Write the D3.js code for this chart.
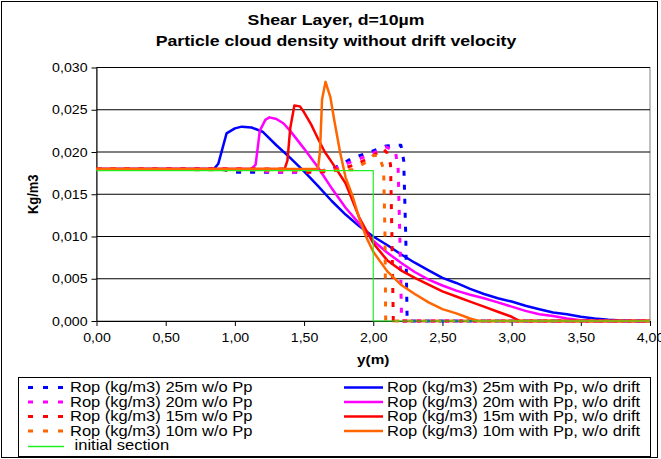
<!DOCTYPE html>
<html>
<head>
<meta charset="utf-8">
<script src="https://cdn.jsdelivr.net/npm/d3@7"></script>
<style>
  html, body { margin: 0; padding: 0; background: #fff; }
  svg { display: block; font-family: "Liberation Sans", Arial, sans-serif; }
</style>
</head>
<body>
<svg id="chart" width="661" height="459"></svg>
<script>
// Particle cloud density profiles across the shear layer, d = 10 µm
const titleLines = ["Shear Layer, d=10\u00b5m", "Particle cloud density without drift velocity"];
const xTicks = [0, 0.5, 1, 1.5, 2, 2.5, 3, 3.5, 4];
const yTicks = [0, 0.005, 0.010, 0.015, 0.020, 0.025, 0.030];
const xLabel = "y(m)";
const yLabel = "Kg/m3";

// without particle pressure (dashed)
const rop25NoPp = [[0,0.0180],[0.9,0.0180],[1.0,0.0176],[1.5,0.0176],[1.7,0.0179],[1.85,0.0193],[1.98,0.0200],[2.09,0.0207],[2.2,0.0208],[2.22,0.0190],[2.235,0.0100],[2.245,0],[4,0]];
const rop20NoPp = [[0,0.0180],[1.15,0.0180],[1.25,0.0176],[1.6,0.0176],[1.7,0.0179],[1.85,0.0189],[1.98,0.0197],[2.09,0.0206],[2.16,0.0201],[2.18,0.0180],[2.195,0.0080],[2.205,0],[4,0]];
const rop15NoPp = [[0,0.0180],[1.4,0.0180],[1.5,0.0176],[1.7,0.0177],[1.85,0.0184],[1.98,0.0193],[2.07,0.0204],[2.1,0.0199],[2.125,0.0185],[2.135,0.0100],[2.145,0],[4,0]];
const rop10NoPp = [[0,0.0180],[1.6,0.0178],[1.85,0.0179],[1.95,0.0188],[2.0,0.0196],[2.04,0.0196],[2.075,0.0180],[2.085,0.0100],[2.09,0],[4,0]];

// with particle pressure, without drift (solid)
const rop25Pp = [[0,0.0180],[0.85,0.0180],[0.88,0.0186],[0.94,0.0222],[1.0,0.0228],[1.05,0.0230],[1.12,0.0229],[1.2,0.0224],[1.3,0.0208],[1.4,0.0193],[1.5,0.0177],[1.6,0.0160],[1.7,0.0142],[1.8,0.0126],[1.9,0.0112],[2.0,0.0100],[2.1,0.0090],[2.2,0.0079],[2.3,0.0069],[2.4,0.0060],[2.5,0.0051],[2.6,0.0045],[2.7,0.0038],[2.8,0.0032],[2.9,0.0027],[3.0,0.0023],[3.1,0.0018],[3.2,0.0014],[3.3,0.0010],[3.4,0.0008],[3.5,0.0005],[3.6,0.0003],[3.7,0.00015],[3.8,0.00005],[3.9,0],[4,0]];
const rop20Pp = [[0,0.0180],[1.12,0.0180],[1.15,0.0185],[1.18,0.0225],[1.22,0.0238],[1.25,0.0241],[1.3,0.0239],[1.35,0.0234],[1.4,0.0225],[1.5,0.0204],[1.6,0.0182],[1.7,0.0157],[1.8,0.0134],[1.9,0.0115],[2.0,0.0095],[2.1,0.0081],[2.2,0.0069],[2.3,0.0058],[2.4,0.0049],[2.5,0.0042],[2.6,0.0036],[2.7,0.0031],[2.8,0.0027],[2.9,0.0022],[3.0,0.0017],[3.1,0.0012],[3.2,0.0008],[3.3,0.0006],[3.4,0.0003],[3.5,0.0001],[3.6,0],[4,0]];
const rop15Pp = [[0,0.0180],[1.36,0.0180],[1.38,0.0190],[1.40,0.0228],[1.43,0.0255],[1.47,0.0254],[1.5,0.0247],[1.55,0.0233],[1.6,0.0216],[1.65,0.0200],[1.7,0.0188],[1.8,0.0163],[1.9,0.0122],[2.0,0.0092],[2.1,0.0072],[2.2,0.0060],[2.3,0.0051],[2.4,0.0043],[2.5,0.0035],[2.6,0.0029],[2.7,0.0023],[2.8,0.0017],[2.9,0.0011],[3.0,0.0005],[3.06,0],[4,0]];
const rop10Pp = [[0,0.0180],[1.6,0.0180],[1.615,0.0200],[1.63,0.0262],[1.655,0.0283],[1.69,0.0265],[1.72,0.0236],[1.76,0.0200],[1.8,0.0170],[1.85,0.0148],[1.9,0.0121],[1.95,0.0099],[2.0,0.0082],[2.1,0.0059],[2.2,0.0043],[2.3,0.0032],[2.4,0.0022],[2.5,0.0014],[2.6,0.0009],[2.7,0.0003],[2.76,0],[4,0]];

// initial step profile
const initialSection = [[0,0.0178],[2.0,0.0178],[2.0,0],[4,0]];

const seriesNames = [
  "Rop (kg/m3) 25m w/o Pp", "Rop (kg/m3) 25m with Pp, w/o drift",
  "Rop (kg/m3) 20m w/o Pp", "Rop (kg/m3) 20m with Pp, w/o drift",
  "Rop (kg/m3) 15m w/o Pp", "Rop (kg/m3) 15m with Pp, w/o drift",
  "Rop (kg/m3) 10m w/o Pp", "Rop (kg/m3) 10m with Pp, w/o drift",
  " initial section"
];
const seriesData = [rop25NoPp, rop25Pp, rop20NoPp, rop20Pp, rop15NoPp, rop15Pp, rop10NoPp, rop10Pp, initialSection];
const seriesColors = ["#0000ff","#0000ff","#ff00ff","#ff00ff","#ff0000","#ff0000","#ff6600","#ff6600","#22ee22"];
const seriesKinds = ["dash","solid","dash","solid","dash","solid","dash","solid","thin"];

const SX = 1.18; // horizontal stretch of the lettering
const svg = d3.select("#chart");

// chart frame
svg.append("rect").attr("x", 1.5).attr("y", 1.5).attr("width", 656).attr("height", 456)
  .attr("fill", "#fff").attr("stroke", "#000").attr("stroke-width", 1);

const x = d3.scaleLinear().domain([0, 4]).range([96.5, 650]);
const y = d3.scaleLinear().domain([0, 0.03]).range([321, 67.5]);

// plot area border and gridlines
svg.append("rect").attr("x", x(0)).attr("y", y(0.03)).attr("width", x(4) - x(0)).attr("height", y(0) - y(0.03))
  .attr("fill", "#fff").attr("stroke", "#808080").attr("stroke-width", 1);
svg.append("g").selectAll("line").data(yTicks.filter(d => d > 0)).join("line")
  .attr("x1", x(0)).attr("x2", x(4)).attr("y1", d => y(d)).attr("y2", d => y(d))
  .attr("stroke", "#000").attr("stroke-width", 1);

const fmtX = v => d3.format(".2f")(v).replace(".", ",");
const fmtY = v => d3.format(".3f")(v).replace(".", ",");

// axes
const xAxis = svg.append("g").attr("transform", `translate(0,${y(0)})`)
  .call(d3.axisBottom(x).tickValues(xTicks).tickFormat(fmtX).tickSizeInner(5).tickSizeOuter(0));
const yAxis = svg.append("g").attr("transform", `translate(${x(0)},0)`)
  .call(d3.axisLeft(y).tickValues(yTicks).tickFormat(fmtY).tickSizeInner(5).tickSizeOuter(0));
[xAxis, yAxis].forEach(g => {
  g.select(".domain").attr("stroke", "#000");
  g.selectAll(".tick line").attr("stroke", "#000");
  g.selectAll(".tick text").attr("fill", "#000")
    .style("font-size", "12px").style("font-family", "'Liberation Sans', Arial, sans-serif");
});
xAxis.selectAll(".tick text").attr("y", 0).attr("dy", 0)
  .attr("transform", `translate(0,21) scale(${SX},1)`);
yAxis.selectAll(".tick text").attr("x", 0).attr("dy", "0.35em")
  .attr("transform", `translate(-9,0) scale(${SX},1)`);

// series
const line = d3.line().x(d => x(d[0])).y(d => y(d[1]));
const plot = svg.append("g");
seriesData.forEach((data, i) => {
  const p = plot.append("path").datum(data).attr("d", line)
    .attr("fill", "none").attr("stroke", seriesColors[i]).attr("stroke-linejoin", "round");
  if (seriesKinds[i] === "dash") p.attr("stroke-width", 3).attr("stroke-dasharray", "5,9");
  else if (seriesKinds[i] === "solid") p.attr("stroke-width", 2.5);
  else p.attr("stroke-width", 1.2);
});

// titles
const title = svg.append("g").style("font-weight", "bold").style("font-size", "15px");
titleLines.forEach((t, i) => {
  title.append("text").text(t).attr("text-anchor", "middle").attr("dy", "0.35em")
    .attr("transform", `translate(336,${20 + i * 21}) scale(${SX},1)`);
});
svg.append("text").text(xLabel).attr("text-anchor", "middle").attr("dy", "0.35em")
  .style("font-weight", "bold").style("font-size", "13px")
  .attr("transform", `translate(${(x(0) + x(4)) / 2},359) scale(${SX},1)`);
svg.append("text").text(yLabel).attr("text-anchor", "middle").attr("dy", "0.35em")
  .style("font-weight", "bold").style("font-size", "13px")
  .attr("transform", `translate(33,${(y(0) + y(0.03)) / 2}) scale(${SX},1) rotate(-90)`);

// legend
const legend = svg.append("g");
legend.append("rect").attr("x", 18.5).attr("y", 377.5).attr("width", 632).attr("height", 79)
  .attr("fill", "#fff").attr("stroke", "#000").attr("stroke-width", 1);
seriesNames.forEach((name, i) => {
  const col = i === 8 ? 0 : i % 2;
  const row = i === 8 ? 4 : Math.floor(i / 2);
  const ly = 387.5 + row * 14.5;
  const x0 = col === 0 ? 28 : 344;
  const x1 = col === 0 ? 64 : 383;
  const ln = legend.append("line").attr("x1", x0).attr("x2", x1)
    .attr("stroke", seriesColors[i]);
  if (seriesKinds[i] === "dash") ln.attr("y1", ly).attr("y2", ly).attr("stroke-width", 3).attr("stroke-dasharray", "5,10");
  else if (seriesKinds[i] === "solid") ln.attr("y1", ly).attr("y2", ly).attr("stroke-width", 2.5);
  else ln.attr("y1", Math.round(ly) + 0.5).attr("y2", Math.round(ly) + 0.5).attr("stroke-width", 1.5);
  legend.append("text").text(name).attr("dy", "0.35em").style("font-size", "14px")
    .style("white-space", "pre").attr("xml:space", "preserve")
    .attr("transform", `translate(${col === 0 ? 70 : 387},${ly}) scale(${SX},1)`);
});
</script>
</body>
</html>
